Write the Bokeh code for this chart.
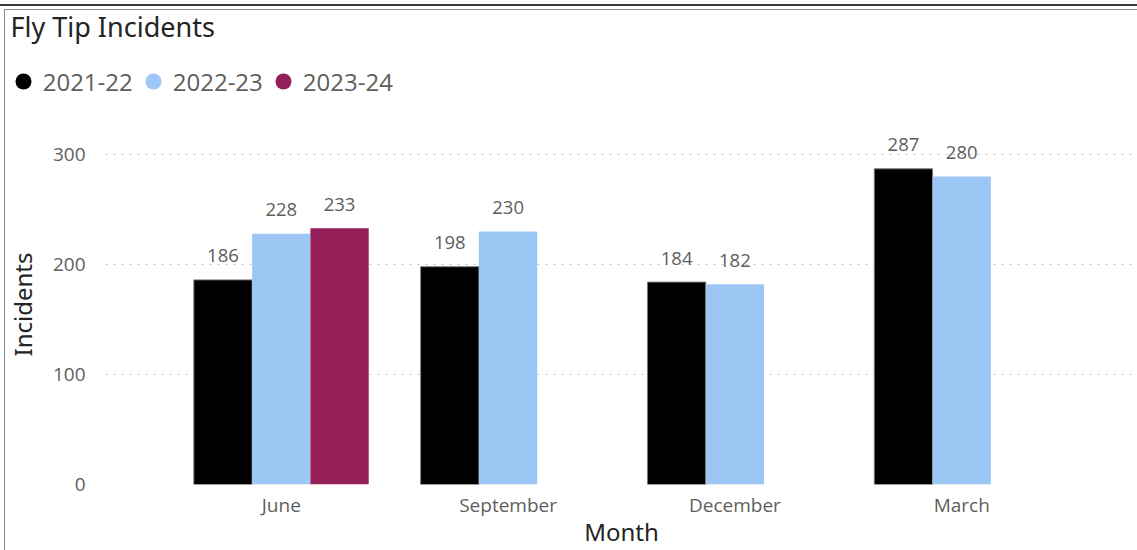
from bokeh.plotting import figure
from bokeh.models import (ColumnDataSource, FactorRange, Range1d, FixedTicker,
                          Legend, LegendItem)
from bokeh.transform import dodge
from bokeh.core.properties import value
from bokeh.embed import file_html
from bokeh.resources import INLINE

# ---------------- data ----------------
months = ["June", "September", "December", "March"]
series_names = ["2021-22", "2022-23", "2023-24"]
incidents_2021_22 = [186, 198, 184, 287]
incidents_2022_23 = [228, 230, 182, 280]
incidents_2023_24 = [233, None, None, None]
series_colors = ["#000000", "#9CC7F5", "#931E58"]
y_ticks = [0, 100, 200, 300]
chart_title = "Fly Tip Incidents"
x_title = "Month"
y_title = "Incidents"

# ---------------- styling ----------------
TEXT_GREY = "#605E5C"
TITLE_COL = "#252423"
TICK_FONT = "Open Sans"
TITLE_FONT = "Noto Sans"

W, H = 1137, 550
HEAD_H = 124                 # header (title + legend) height
BODY_H = H - HEAD_H          # chart body height
FRAME_LEFT, BOTTOM_BORDER = 105, 66


def clean(vals):
    return [float("nan") if v is None else v for v in vals]


def lab(vals):
    return ["" if v is None else str(v) for v in vals]


source = ColumnDataSource(dict(
    month=months,
    s0=clean(incidents_2021_22), s1=clean(incidents_2022_23), s2=clean(incidents_2023_24),
    l0=lab(incidents_2021_22), l1=lab(incidents_2022_23), l2=lab(incidents_2023_24),
))

# ---------------- header: title + legend ----------------
head = figure(width=W, height=HEAD_H, output_backend="svg", toolbar_location=None,
              x_range=FactorRange(factors=months), y_range=Range1d(0, 327.27),
              x_axis_type=None, y_axis_type=None,
              min_border_left=0, min_border_right=0, min_border_bottom=0,
              min_border_top=0)
head.outline_line_color = None
head.xgrid.grid_line_color = None
head.ygrid.grid_line_color = None
head.title.text = chart_title
head.title.text_font = TITLE_FONT
head.title.text_font_size = "27px"
head.title.text_font_style = "normal"
head.title.text_color = TITLE_COL
head.title.align = "left"
head.title.offset = 10
head.title.standoff = 10
head.title.vertical_align = "bottom"
head.stylesheets = [
    ":host { position: relative; }"
    ":host::before { content: ''; position: absolute; left: 0; top: 4px; right: 0;"
    " height: 2px; background: #3a3a3a; z-index: 10; pointer-events: none; }"
    ":host::after { content: ''; position: absolute; left: 4px; top: 9px; right: 0;"
    " bottom: 0; border-left: 1px solid #8a8a8a; border-top: 1px solid #8a8a8a;"
    " z-index: 10; pointer-events: none; }"
]

# ---------------- body: bars ----------------
p = figure(width=W, height=BODY_H, output_backend="svg", toolbar_location=None,
           x_range=FactorRange(factors=months, range_padding=0.1375,
                               range_padding_units="percent"),
           y_range=Range1d(0, 327.27),
           min_border_left=FRAME_LEFT, min_border_right=0,
           min_border_bottom=BOTTOM_BORDER, min_border_top=0)
p.title = None
p.outline_line_color = None
p.stylesheets = [
    ":host { position: relative; }"
    ":host::after { content: ''; position: absolute; left: 4px; top: 0; width: 0;"
    " bottom: 0; border-left: 1px solid #8a8a8a; z-index: 10; pointer-events: none; }"
]

bar_w = 0.257
offsets = [-bar_w, 0.0, bar_w]
legend_items = []
for i, (name, color) in enumerate(zip(series_names, series_colors)):
    xd = dodge("month", offsets[i], range=p.x_range)
    p.vbar(x=xd, top=f"s{i}", width=bar_w, source=source,
           fill_color=color, line_color="#7a7a7a" if i == 0 else None,
           line_width=1)
    p.text(x=xd, y=f"s{i}", text=f"l{i}", source=source,
           text_align="center", text_baseline="alphabetic", y_offset=-24,
           text_font=value(TICK_FONT), text_font_size="18.5px",
           text_color=TEXT_GREY)
    # legend swatch renderer (zero-size markers, only the legend shows them)
    dummy = head.scatter(x="month", y=f"s{i}", source=source, size=0,
                         fill_color=color, line_color=None)
    legend_items.append(LegendItem(label=name, renderers=[dummy]))

GLYPH = 40
legend = Legend(items=legend_items, orientation="horizontal",
                location=(2.7, 22.7),
                glyph_width=GLYPH, glyph_height=GLYPH,
                label_standoff=0, spacing=0, padding=0, margin=0,
                border_line_color=None, background_fill_alpha=0,
                label_text_font=TICK_FONT, label_text_font_size="24px",
                label_text_color=TEXT_GREY)
head.add_layout(legend)

# axes
for ax in (p.xaxis[0], p.yaxis[0]):
    ax.axis_line_color = None
    ax.major_tick_line_color = None
    ax.minor_tick_line_color = None
    ax.major_label_text_font = TICK_FONT
    ax.major_label_text_font_size = "19px"
    ax.major_label_text_color = TEXT_GREY
    ax.axis_label_text_font = TITLE_FONT
    ax.axis_label_text_font_size = "24px"
    ax.axis_label_text_font_style = "normal"
    ax.axis_label_text_color = TITLE_COL

p.xaxis.major_label_standoff = 1
p.xaxis.axis_label = x_title
p.xaxis.axis_label_standoff = -6
p.yaxis.ticker = FixedTicker(ticks=y_ticks)
p.yaxis.major_label_standoff = 14
p.yaxis.axis_label = y_title
p.yaxis.axis_label_standoff = 11

p.xgrid.grid_line_color = None
p.ygrid.grid_line_color = "#C4C4C4"
p.ygrid.grid_line_dash = "2 6"
p.ygrid.grid_line_width = 1

open("out.html", "w").write(file_html([head, p], INLINE))
